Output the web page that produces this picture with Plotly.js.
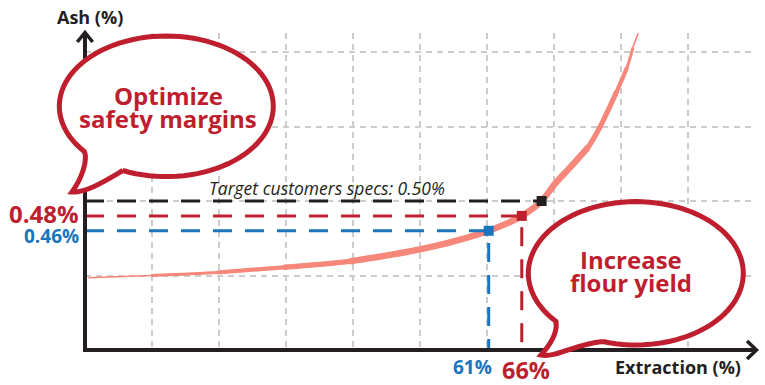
<!DOCTYPE html>
<html><head><meta charset="utf-8">
<script src="https://cdn.plot.ly/plotly-3.0.1.min.js"></script>
<style>html,body{margin:0;padding:0;background:#fff;} #chart{width:765px;height:385px;}</style>
</head><body><div id="chart"></div>
<script>
// ---------- data ----------
const curveExtraction = [0.5, 10, 20, 30, 40, 45, 50, 55, 61, 66, 69, 71, 73.3, 76, 77.8, 80.4, 81.9, 82.8, 83.6];
const curveAsh        = [0.397, 0.400, 0.404, 0.411, 0.419, 0.426, 0.434, 0.444, 0.46, 0.48, 0.50, 0.523, 0.545, 0.572, 0.599, 0.648, 0.679, 0.706, 0.725];

const refExtraction = [61, 66, 69];        // blue, red, black (target)
const refAsh        = [0.46, 0.48, 0.50];
const refDropToAxis = [true, true, false];

const ashLabels        = ['0.46%', '0.48%'];
const extractionLabels = ['61%', '66%'];
const targetLabel      = 'Target customers specs: 0.50%';
const xTitle = 'Extraction (%)';
const yTitle = 'Ash (%)';
const bubbleLeftText  = ['Optimize', 'safety margins'];
const bubbleRightText = ['Increase', 'flour yield'];

// ---------- style ----------
const DARK = '#231F20', RED = '#BE1E2D', BLUE = '#1B75BC', SALMON = '#F7877A', GRID = '#CCCCCC';
const refColors = [BLUE, RED, DARK];
const FONT = 'Open Sans, Lato, sans-serif';
const xRange = [0, 100.94], yRange = [0.3, 0.7255];

// pixel -> paper helpers (plot area 85..753 x 33..350)
const L = 85, R = 753, T = 33, B = 350;
const px = x => (x - L) / (R - L);
const py = y => (B - y) / (B - T);

const traces = [];
// tapered curve: overlapping sub-ranges with increasing widths
const taper = [[0, 18, 1.6], [1, 17, 3], [2, 16, 4.2], [3, 15, 5.2], [4, 13, 6.4]];
taper.forEach(([a, b, w]) => {
  traces.push({
    type: 'scatter', mode: 'lines',
    x: curveExtraction.slice(a, b + 1), y: curveAsh.slice(a, b + 1),
    line: {color: SALMON, width: w, shape: 'spline', smoothing: 0.8},
    hoverinfo: 'skip', showlegend: false
  });
});
// reference dashed lines
refExtraction.forEach((xv, i) => {
  const xs = [xRange[0], xv], ys = [refAsh[i], refAsh[i]];
  if (refDropToAxis[i]) { xs.push(xv); ys.push(yRange[0]); }
  traces.push({
    type: 'scatter', mode: 'lines', x: xs, y: ys,
    line: {color: refColors[i], width: 3, dash: '19px,13px'},
    hoverinfo: 'skip', showlegend: false
  });
});
traces.push({
  type: 'scatter', mode: 'markers', x: refExtraction, y: refAsh,
  marker: {symbol: 'square', size: 10, color: refColors},
  hoverinfo: 'skip', showlegend: false
});

// ---------- decorations ----------
function bubblePath(cx, cy, rx, ry, aStart, aEnd, tailOut, tailBack) {
  let d = '';
  const n = 90;
  for (let i = 0; i <= n; i++) {
    const t = (aStart + (aEnd - aStart) * i / n) * Math.PI / 180;
    const x = cx + rx * Math.cos(t), y = cy + ry * Math.sin(t);
    d += (i ? ' L' : 'M') + px(x).toFixed(5) + ',' + py(y).toFixed(5);
  }
  const c = pts => pts.map(p => px(p[0]).toFixed(5) + ',' + py(p[1]).toFixed(5)).join(' ');
  d += ' C' + c(tailOut) + ' C' + c(tailBack) + ' Z';
  return d;
}
const shapes = [
  {type: 'line', xref: 'paper', yref: 'paper', x0: px(85), y0: py(352), x1: px(85), y1: py(33), line: {color: DARK, width: 4}, layer: 'above'},
  {type: 'path', xref: 'paper', yref: 'paper', path: `M${px(77.3)},${py(42)} L${px(85)},${py(32.5)} L${px(92.7)},${py(42)}`, line: {color: DARK, width: 3.5}, layer: 'above'},
  {type: 'line', xref: 'paper', yref: 'paper', x0: px(83), y0: py(350), x1: px(756), y1: py(350), line: {color: DARK, width: 4}, layer: 'above'},
  {type: 'path', xref: 'paper', yref: 'paper', path: `M${px(747)},${py(341)} L${px(756.5)},${py(350)} L${px(747)},${py(359)}`, line: {color: DARK, width: 3.5}, layer: 'above'},
  {type: 'path', xref: 'paper', yref: 'paper', layer: 'above', fillcolor: '#FFFFFF', line: {color: RED, width: 5},
   path: bubblePath(166.3, 106.3, 107, 70.3, 114, -220,
     [[88, 160], [82, 178], [72, 192]], [[86, 193], [105, 181], [122.8, 170.5]])},
  {type: 'path', xref: 'paper', yref: 'paper', layer: 'above', fillcolor: '#FFFFFF', line: {color: RED, width: 5},
   path: bubblePath(635.8, 273.3, 107.5, 71.7, 108, -222,
     [[558, 333], [549, 346], [541, 355]], [[556, 358], [575, 344], [602.6, 341.5]])}
];

const bold = (size, color) => ({family: FONT, size: size, color: color, weight: 700});
const annotations = [
  {xref: 'paper', yref: 'paper', x: px(90), y: py(17), text: yTitle, showarrow: false, font: bold(18, DARK), xanchor: 'center', yanchor: 'middle'},
  {xref: 'paper', yref: 'paper', x: px(678), y: py(367), text: xTitle, showarrow: false, font: bold(18, DARK), xanchor: 'center', yanchor: 'middle'},
  {xref: 'paper', yref: 'y', x: px(81), y: refAsh[0], yshift: -5, text: ashLabels[0], showarrow: false, font: bold(19, BLUE), xanchor: 'right', yanchor: 'middle'},
  {xref: 'paper', yref: 'y', x: px(81), y: refAsh[1], yshift: 2, text: ashLabels[1], showarrow: false, font: bold(24, RED), xanchor: 'right', yanchor: 'middle'},
  {xref: 'x', yref: 'paper', x: refExtraction[0], xshift: 5, y: py(367), text: extractionLabels[0], showarrow: false, font: bold(19, BLUE), xanchor: 'right', yanchor: 'middle'},
  {xref: 'x', yref: 'paper', x: refExtraction[1], xshift: 4, y: py(369.5), text: extractionLabels[1], showarrow: false, font: bold(23.5, RED), xanchor: 'center', yanchor: 'middle'},
  {xref: 'paper', yref: 'y', x: px(327), y: refAsh[2], yshift: 13, text: targetLabel, showarrow: false, font: {family: FONT, size: 17.5, color: DARK, style: 'italic'}, xanchor: 'center', yanchor: 'middle'},
  {xref: 'paper', yref: 'paper', x: px(168), y: py(95), text: bubbleLeftText[0], showarrow: false, font: bold(24, RED), xanchor: 'center', yanchor: 'middle'},
  {xref: 'paper', yref: 'paper', x: px(168), y: py(118), text: bubbleLeftText[1], showarrow: false, font: bold(24, RED), xanchor: 'center', yanchor: 'middle'},
  {xref: 'paper', yref: 'paper', x: px(631), y: py(259), text: bubbleRightText[0], showarrow: false, font: bold(24, RED), xanchor: 'center', yanchor: 'middle'},
  {xref: 'paper', yref: 'paper', x: px(631), y: py(282), text: bubbleRightText[1], showarrow: false, font: bold(24, RED), xanchor: 'center', yanchor: 'middle'}
];

const layout = {
  width: 765, height: 385,
  margin: {l: L, r: 765 - R, t: T, b: 385 - B, pad: 0},
  paper_bgcolor: '#FFFFFF', plot_bgcolor: '#FFFFFF',
  showlegend: false,
  xaxis: {range: xRange, tickmode: 'linear', tick0: 0, dtick: 10.12, showgrid: true, gridcolor: GRID, gridwidth: 2, griddash: '6px,5px',
          zeroline: false, showline: false, showticklabels: false, ticks: '', fixedrange: true},
  yaxis: {range: yRange, tickmode: 'linear', tick0: 0.3, dtick: 0.1, showgrid: true, gridcolor: GRID, gridwidth: 2, griddash: '6px,5px',
          zeroline: false, showline: false, showticklabels: false, ticks: '', fixedrange: true},
  shapes: shapes,
  annotations: annotations
};
Plotly.newPlot('chart', traces, layout, {staticPlot: true, displayModeBar: false});
</script>
</body></html>
